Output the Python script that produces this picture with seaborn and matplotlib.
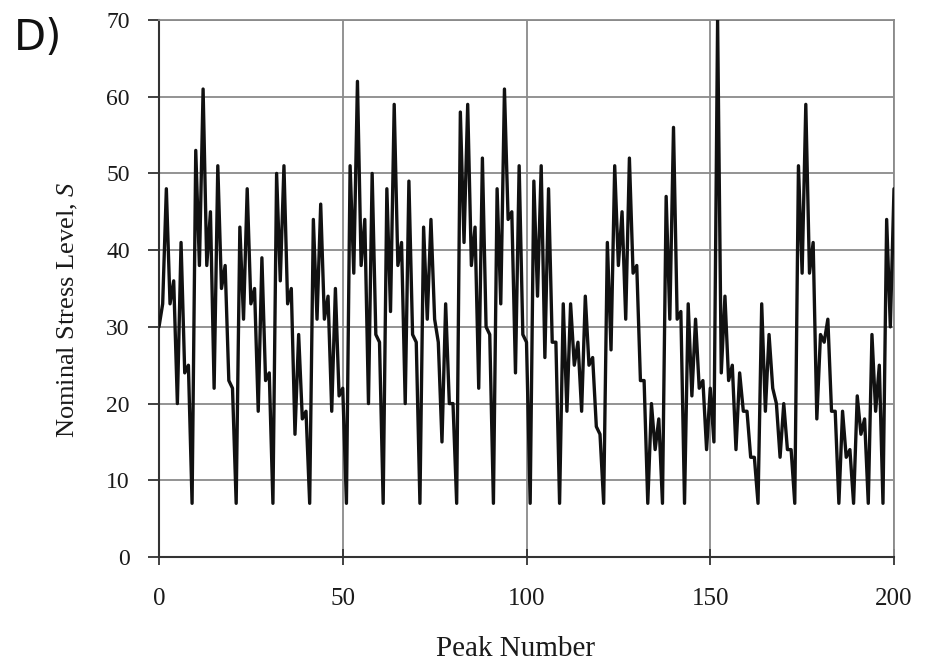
import matplotlib
matplotlib.use("Agg")
import matplotlib.pyplot as plt
import seaborn as sns
import pandas as pd

# Data (peak-by-peak nominal stress levels)
stress = [
    30, 33, 48, 33, 36, 20, 41, 24, 25, 7,
    53, 38, 61, 38, 45, 22, 51, 35, 38, 23,
    22, 7, 43, 31, 48, 33, 35, 19, 39, 23,
    24, 7, 50, 36, 51, 33, 35, 16, 29, 18,
    19, 7, 44, 31, 46, 31, 34, 19, 35, 21,
    22, 7, 51, 37, 62, 38, 44, 20, 50, 29,
    28, 7, 48, 32, 59, 38, 41, 20, 49, 29,
    28, 7, 43, 31, 44, 31, 28, 15, 33, 20,
    20, 7, 58, 41, 59, 38, 43, 22, 52, 30,
    29, 7, 48, 33, 61, 44, 45, 24, 51, 29,
    28, 7, 49, 34, 51, 26, 48, 28, 28, 7,
    33, 19, 33, 25, 28, 19, 34, 25, 26, 17,
    16, 7, 41, 27, 51, 38, 45, 31, 52, 37,
    38, 23, 23, 7, 20, 14, 18, 7, 47, 31,
    56, 31, 32, 7, 33, 21, 31, 22, 23, 14,
    22, 15, 70, 24, 34, 23, 25, 14, 24, 19,
    19, 13, 13, 7, 33, 19, 29, 22, 20, 13,
    20, 14, 14, 7, 51, 37, 59, 37, 41, 18,
    29, 28, 31, 19, 19, 7, 19, 13, 14, 7,
    21, 16, 18, 7, 29, 19, 25, 7, 44, 30,
    48,
]
peak_number = list(range(len(stress)))
x_ticks = [0, 50, 100, 150, 200]
y_ticks = [0, 10, 20, 30, 40, 50, 60, 70]

df = pd.DataFrame({"Peak Number": peak_number, "Stress": stress})

sns.set_theme(style="white")
plt.rcParams["font.family"] = ["Liberation Serif", "DejaVu Serif"]
plt.rcParams["mathtext.fontset"] = "custom"
plt.rcParams["mathtext.it"] = "Liberation Serif:italic"
plt.rcParams["mathtext.rm"] = "Liberation Serif"

fig = plt.figure(figsize=(9.25, 6.66), dpi=100)
ax = fig.add_axes([159 / 925, 1 - 557 / 666, (894 - 159) / 925, (557 - 20) / 666])

sns.lineplot(data=df, x="Peak Number", y="Stress", ax=ax, color="#111111",
             linewidth=2.4, zorder=3)

ax.set_xlim(0, 200)
ax.set_ylim(0, 70)
ax.set_xticks(x_ticks)
ax.set_yticks(y_ticks)
ax.grid(True, color="#8a8a8a", linewidth=1.3, zorder=0)

for side in ["top", "right"]:
    ax.spines[side].set_color("#8a8a8a")
    ax.spines[side].set_linewidth(1.3)
for side in ["left", "bottom"]:
    ax.spines[side].set_color("#333333")
    ax.spines[side].set_linewidth(1.5)

ax.tick_params(axis="x", direction="inout", length=12, width=1.3, color="#333333",
               labelsize=18, pad=16, labelcolor="#1a1a1a")
ax.tick_params(axis="y", direction="out", length=8, width=1.3, color="#333333",
               labelsize=17, pad=13, labelcolor="#1a1a1a")
ax.tick_params(axis="both", left=True, bottom=True)

ax.set_xlabel("Peak Number", fontsize=21, color="#1a1a1a")
ax.set_ylabel("Nominal Stress Level, $S$", fontsize=19, color="#1a1a1a")
ax.xaxis.set_label_coords(0.485, -0.148)
ax.yaxis.set_label_coords(-0.108, 0.46)

fig.text(14 / 925, 1 - 38 / 666, "D)", fontsize=30, family="DejaVu Sans",
         va="center", ha="left", color="#111111")

fig.savefig("out.png", dpi=100)
